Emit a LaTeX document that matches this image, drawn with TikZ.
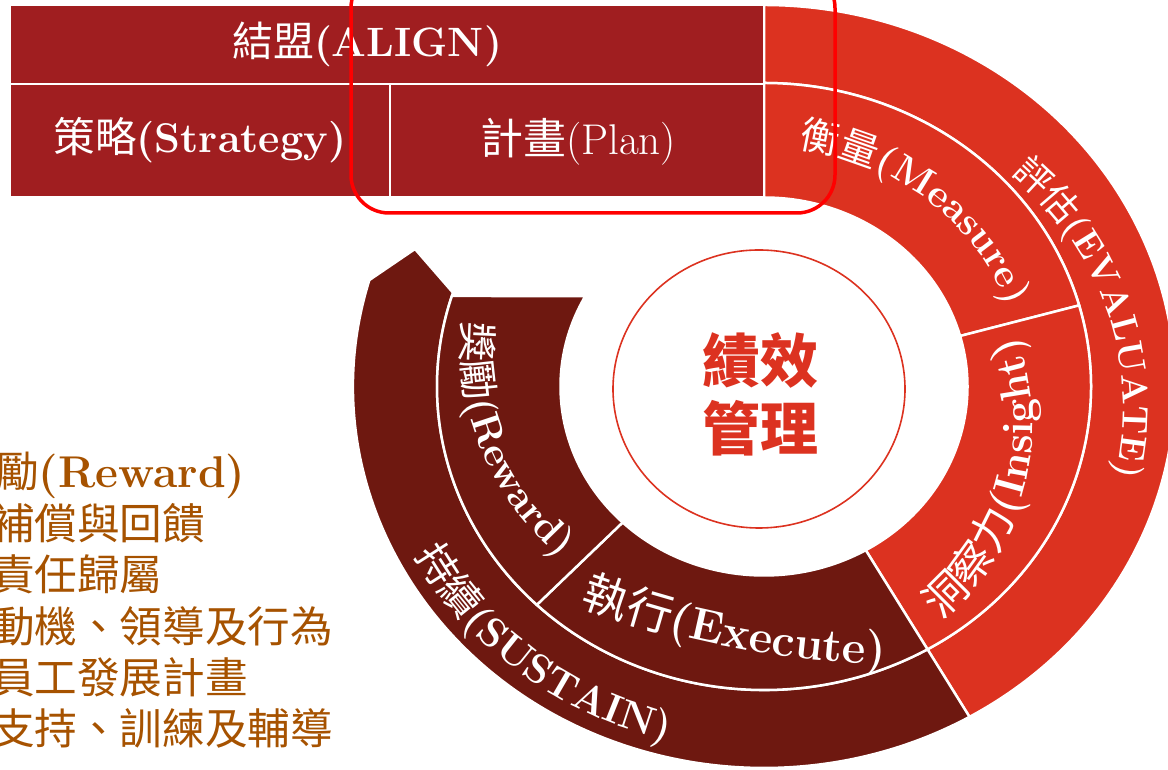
\documentclass[tikz,border=0pt]{standalone}
\usepackage{fontspec}
\newfontfamily\cjk{Noto Sans CJK TC}
\usetikzlibrary{calc,decorations.text}
\definecolor{alignred}{HTML}{A01E20}
\definecolor{evalred}{HTML}{DC3220}
\definecolor{sustainred}{HTML}{6E1810}
\definecolor{listbrown}{HTML}{A65200}
\newcommand{\fsz}[1]{\fontsize{#1}{#1}\selectfont}
% ring piece: colour, from, to, inner x/y radius, outer x/y radius
\newcommand{\ringseg}[7]{%
  \path[seg,fill=#1] ($(c)+(#2:#6 and #7)$) arc[start angle=#2,end angle=#3,x radius=#6,y radius=#7]
    -- ($(c)+(#3:#4 and #5)$) arc[start angle=#3,end angle=#2,x radius=#4,y radius=#5] -- cycle;}
\tikzset{
  seg/.style={draw=white,line width=2.5pt},
  band/.style={fill=alignred,draw=white,line width=2.5pt},
  bandtext/.style={text=white,inner sep=0pt},
  listtext/.style={text=listbrown,font=\fsz{42.6}\cjk,inner sep=0pt,anchor=base west},
  ringtext/.style={decorate,decoration={text along path,text align=center,text color=white,text={#1}}}
}

\begin{document}
\begin{tikzpicture}[x=1pt,y=1pt]
\useasboundingbox (0,0) rectangle (1168,770);
\coordinate (c) at (764,383.5);
% centres of the label arcs
\coordinate (ce) at ($(c)+(21.5,-21.4)$);
\coordinate (ci) at ($(c)+(-17.6,-38)$);
\coordinate (cr) at ($(c)+(-5.6,33.4)$);
\coordinate (xo) at (911.5,1055.3);
% outer ring
\ringseg{evalred}{-60}{90}{327}{303.5}{411}{381.5}
\path[seg,fill=sustainred] ($(c)+(163.8:411 and 381.5)$) arc[start angle=163.8,end angle=300,x radius=411,y radius=381.5]
  -- ($(c)+(300:327 and 303.5)$) arc[start angle=300,end angle=162,x radius=327,y radius=303.5] -- (415,521) -- cycle;
% inner ring
\ringseg{evalred}{15.5}{90}{203.5}{189}{327}{303.5}
\ringseg{evalred}{-60}{15.5}{203.5}{189}{327}{303.5}
\ringseg{sustainred}{-134}{-60}{203.5}{189}{327}{303.5}
\path[seg,fill=sustainred] ($(c)+(162.65:327 and 303.5)$) arc[start angle=162.65,end angle=226,x radius=327,y radius=303.5]
  -- ($(c)+(226:203.5 and 189)$) arc[start angle=226,end angle=151.4,x radius=203.5,y radius=189] -- cycle;
% top bands
\path[band] (10,686) rectangle (764,765);
\path[band] (10,573) rectangle (390,686);
\path[band] (390,573) rectangle (764,686);
\node[bandtext,font=\fsz{41}\cjk] (alignlbl) at (367,726) {結盟\rmfamily\bfseries(ALIGN)};
\node[bandtext,font=\fsz{41.5}\cjk] (stratlbl) at (200,630) {策略\rmfamily\bfseries(Strategy)};
\node[bandtext,font=\fsz{43}\cjk] (planlbl) at (578,628) {計畫\rmfamily(Plan)};
% ring labels
\path[ringtext={|\fsz{39}\cjk|衡量|\fsz{39}\rmfamily\bfseries|(Measure)}]
  ($(c)+(95.5:258.5 and 240)$) arc[start angle=95.5,end angle=5.5,x radius=258.5,y radius=240];
\path[ringtext={|\fsz{36.5}\cjk|評估|\fsz{36.5}\rmfamily\bfseries|(EVALUATE)}]
  ($(ce)+(62.5:338 and 314)$) arc[start angle=62.5,end angle=-27.5,x radius=338,y radius=314];
\path[ringtext={|\fsz{43}\cjk|洞察力|\fsz{43}\rmfamily\bfseries|(Insight)}]
  ($(ci)+(-58.7:286.5 and 266)$) arc[start angle=-58.7,end angle=31.3,x radius=286.5,y radius=266];
\path[ringtext={|\fsz{40}\cjk|獎勵|\fsz{40}\rmfamily\bfseries|(Reward)}]
  ($(cr)+(160:296 and 275)$) arc[start angle=160,end angle=241,x radius=296,y radius=275];
\path[ringtext={|\fsz{40.7}\cjk|持續|\fsz{40.7}\rmfamily\bfseries|(SUSTAIN)}]
  ($(c)+(-174:393 and 365)$) arc[start angle=-174,end angle=-84,x radius=393,y radius=365];
\path[ringtext={|\fsz{46}\cjk|執行|\fsz{46}\rmfamily\bfseries|(Execute)}]
  ($(xo)+(247:950)$) arc[start angle=247,end angle=271,radius=950];
% centre
\draw[evalred,line width=1.6pt] (759,381) ellipse[x radius=146,y radius=139];
\node[text=evalred,font=\fontsize{58}{68}\selectfont\cjk\bfseries,align=center] (core) at (760,376) {績效\\管理};
% list on the left
\node[listtext] (list1) at (-4,282) {勵\fsz{44.5}\rmfamily\bfseries(Reward)};
\node[listtext] (list2) at (-8,230) {補償與回饋};
\node[listtext] (list3) at (-8,179) {責任歸屬};
\node[listtext] (list4) at (-8,127) {動機、領導及行為};
\node[listtext] (list5) at (-8,76) {員工發展計畫};
\node[listtext] (list6) at (-8,25) {支持、訓練及輔導};
% highlight
\draw[red,line width=3.5pt,rounded corners=38pt] (351,557) rectangle (835,800);
\end{tikzpicture}
\end{document}
